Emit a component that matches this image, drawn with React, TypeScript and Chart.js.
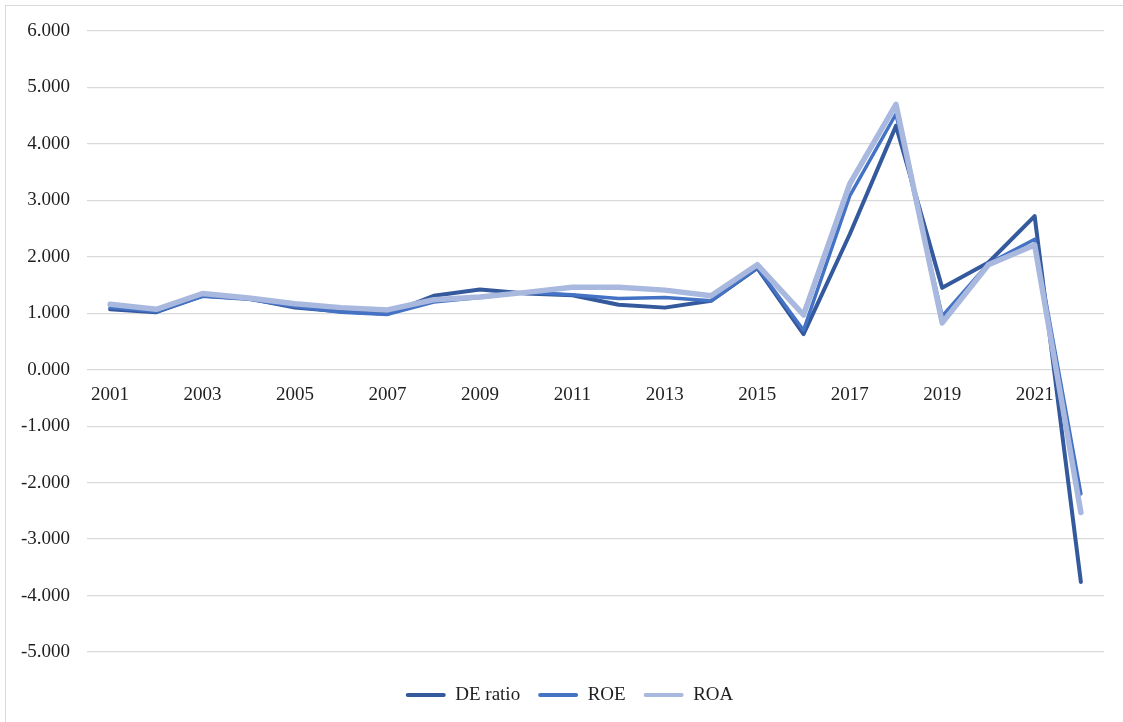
import React, { useEffect, useRef } from 'react';
import Chart from 'chart.js/auto';

const years = ['2001', '2002', '2003', '2004', '2005', '2006', '2007', '2008', '2009', '2010', '2011', '2012', '2013', '2014', '2015', '2016', '2017', '2018', '2019', '2020', '2021', '2022'];
const deRatio = [1.07, 1.02, 1.31, 1.26, 1.10, 1.03, 0.99, 1.31, 1.42, 1.35, 1.32, 1.15, 1.10, 1.22, 1.80, 0.63, 2.40, 4.32, 1.45, 1.90, 2.72, -3.76];
const roe = [1.10, 1.03, 1.30, 1.25, 1.12, 1.02, 0.98, 1.20, 1.28, 1.37, 1.33, 1.26, 1.28, 1.22, 1.81, 0.70, 3.08, 4.53, 0.95, 1.88, 2.31, -2.20];
const roa = [1.16, 1.07, 1.35, 1.27, 1.17, 1.10, 1.06, 1.24, 1.29, 1.37, 1.46, 1.46, 1.41, 1.31, 1.86, 0.97, 3.29, 4.70, 0.83, 1.86, 2.21, -2.53];
const seriesNames = ['DE ratio', 'ROE', 'ROA'];
const yMin = -5;
const yMax = 6;

const FONT = '"Liberation Serif", "Times New Roman", serif';
const TEXT = '#1f1f1f';

const legendShift = {
  id: 'legendShift',
  afterLayout(chart: any) {
    const lg = chart.legend;
    if (lg) {
      lg.left = 35;
      lg.width = lg.right - lg.left;
    }
  },
};

export default function App() {
  const ref = useRef<HTMLCanvasElement | null>(null);
  useEffect(() => {
    if (!ref.current) return;
    const defaultGen = (Chart as any).defaults.plugins.legend.labels.generateLabels;
    const chart = new Chart(ref.current, {
      type: 'line',
      data: {
        labels: years,
        datasets: [
          { label: seriesNames[0], data: deRatio, borderColor: '#34599C', backgroundColor: '#34599C', borderWidth: 4, order: 3 },
          { label: seriesNames[1], data: roe, borderColor: '#4472C4', backgroundColor: '#4472C4', borderWidth: 3.5, order: 2 },
          { label: seriesNames[2], data: roa, borderColor: '#A8B8DE', backgroundColor: '#A8B8DE', borderWidth: 5.5, order: 1 },
        ].map((d) => ({ ...d, pointRadius: 0, tension: 0, borderJoinStyle: 'round' as const, borderCapStyle: 'round' as const })),
      },
      options: {
        responsive: false,
        animation: false,
        devicePixelRatio: 1,
        layout: { padding: { left: 6, right: 19, top: 31, bottom: 7.5 } },
        font: { family: FONT, size: 19 },
        scales: {
          x: {
            type: 'category',
            position: { y: 0 } as any,
            offset: true,
            grid: { display: false, drawTicks: false },
            border: { display: false },
            ticks: {
              autoSkip: false,
              maxRotation: 0,
              padding: 14,
              color: TEXT,
              font: { family: FONT, size: 19 },
              callback: (_v: any, i: number) => (i % 2 === 0 ? years[i] : ''),
            },
          },
          y: {
            min: yMin,
            max: yMax,
            afterFit: (s: any) => { s.width = 81; },
            grid: { color: '#d9d9d9', lineWidth: 1.3, drawTicks: false },
            border: { display: false },
            ticks: {
              stepSize: 1,
              padding: 17,
              color: TEXT,
              font: { family: FONT, size: 19 },
              callback: (v: any) => Number(v).toFixed(3),
            },
          },
        },
        plugins: {
          tooltip: { enabled: false },
          legend: {
            position: 'bottom',
            title: { display: true, text: '', font: { size: 1 }, padding: { top: 14.3, bottom: 0 } },
            labels: {
              boxWidth: 40,
              boxHeight: 4,
              padding: 18,
              color: TEXT,
              font: { family: FONT, size: 19 },
              sort: (a: any, b: any) => a.datasetIndex - b.datasetIndex,
              generateLabels: (c: any) =>
                defaultGen(c).map((it: any) => ({ ...it, lineWidth: 0, borderRadius: 2 })),
            },
          },
        },
      },
      plugins: [legendShift],
    });
    return () => chart.destroy();
  }, []);

  return (
    <div style={{ position: 'fixed', left: 0, top: 0, width: 1123, height: 722, overflow: 'hidden', background: '#fff' }}>
      <div style={{ position: 'absolute', left: 5, top: 5, width: 1200, height: 800, border: '1.5px solid #d9d9d9' }} />
      <canvas ref={ref} width={1123} height={722} style={{ position: 'absolute', left: 0, top: 0 }} />
    </div>
  );
}
